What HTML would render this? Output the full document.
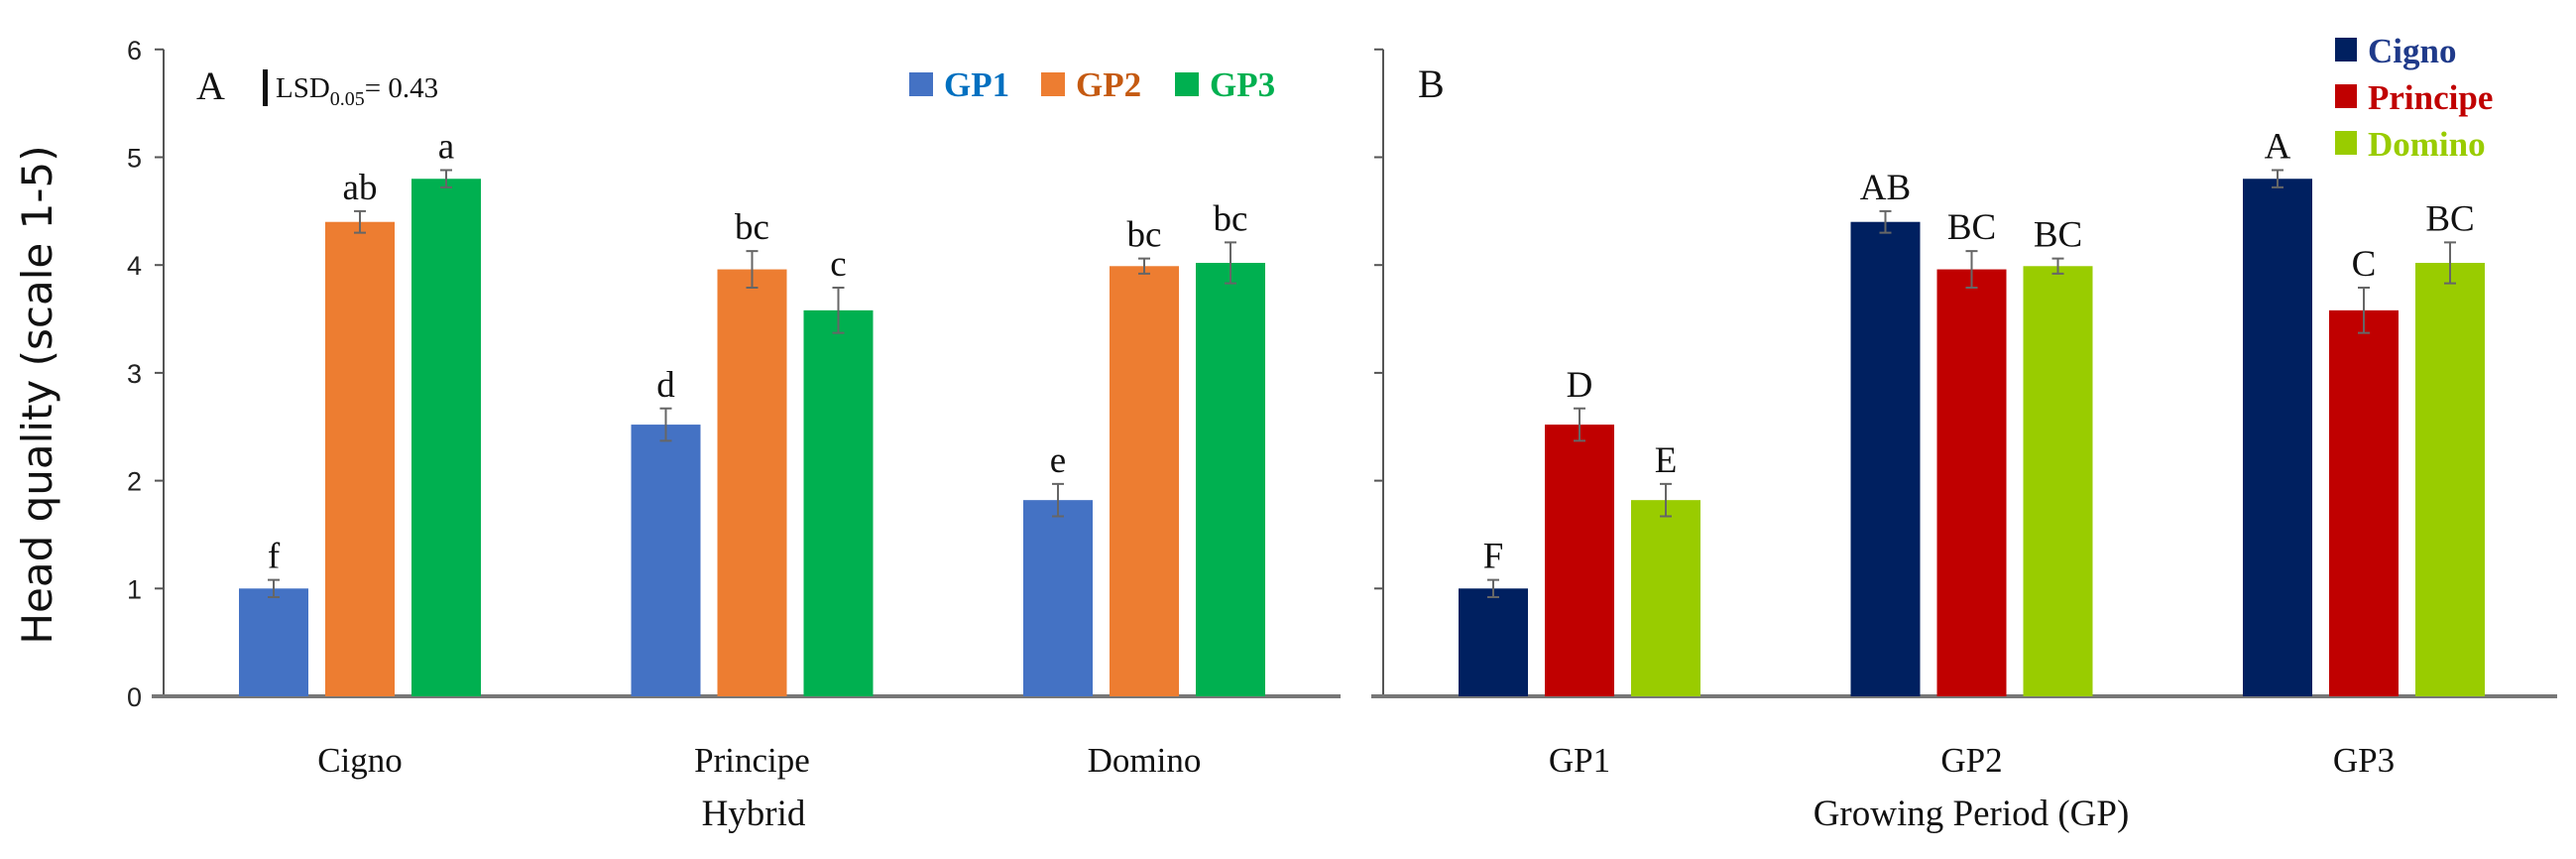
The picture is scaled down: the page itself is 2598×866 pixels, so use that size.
<!DOCTYPE html>
<html><head><meta charset="utf-8"><style>
html,body{margin:0;padding:0;background:#fff}
svg{display:block}
.tick{font-family:"Liberation Sans",sans-serif;font-size:27px;fill:#222}
.ser{font-family:"Liberation Serif",serif;fill:#111}
</style></head><body>
<svg id="chart" width="2598" height="866" viewBox="0 0 2598 866" xmlns="http://www.w3.org/2000/svg"></svg>
<script>
const hybrids = ["Cigno","Principe","Domino"];
const periods = ["GP1","GP2","GP3"];
// values[hybrid][period]
const cignoVals = [1.00, 4.40, 4.80];
const principeVals = [2.52, 3.96, 3.58];
const dominoVals = [1.82, 3.99, 4.02];
const cignoErr = [0.08, 0.10, 0.08];
const principeErr = [0.15, 0.17, 0.21];
const dominoErr = [0.15, 0.07, 0.19];
const lettersA = [["f","ab","a"],["d","bc","c"],["e","bc","bc"]];
const lettersB = [["F","D","E"],["AB","BC","BC"],["A","C","BC"]];
const yTicks = [0,1,2,3,4,5,6];
const gpColors = ["#4472c4","#ed7d31","#00b050"];
const hyColors = ["#002060","#c00000","#99cc00"];

const svg = document.getElementById('chart');
const NS = "http://www.w3.org/2000/svg";
function mk(tag, attrs, parent){const e=document.createElementNS(NS,tag);for(const k in attrs)e.setAttribute(k,attrs[k]);(parent||svg).appendChild(e);return e;}
const Y0=702, UNIT=108.7;
function y(v){return Y0 - v*UNIT;}
const vals=[cignoVals,principeVals,dominoVals];
const errs=[cignoErr,principeErr,dominoErr];

function panel(axX, xStart, xEnd, c0, labels, showLabels, getV, getE, colors, letters, pname){
  const g=mk('g',{});
  
  
  const ax=mk('line',{x1:axX,y1:y(6),x2:axX,y2:Y0,stroke:'#555','stroke-width':2},g);
  
  
  yTicks.forEach(t=>{
    const tk=mk('line',{x1:axX-9,y1:y(t),x2:axX,y2:y(t),stroke:'#555','stroke-width':2},g);
    
    
    if(showLabels){
      const tl=mk('text',{x:axX-22,y:y(t)+10,'text-anchor':'end',class:'tick'},g);
      tl.textContent=t;
      
      
    }
  });
  const xa=mk('line',{x1:xStart,y1:Y0,x2:xEnd,y2:Y0,stroke:'#777','stroke-width':4},g);
  
  
  labels.forEach((lab,i)=>{
    const cx=c0+i*395.5;
    for(let j=0;j<3;j++){
      const v=getV(i,j), e=getE(i,j);
      const bx=cx+(j-1)*87-35;
      const r=mk('rect',{x:bx,y:y(v),width:70,height:Y0-y(v),fill:colors[j]},g);
      
      
      const ex=bx+35;
      const eb=mk('path',{d:`M${ex},${y(v+e)}V${y(v-e)}M${ex-6},${y(v+e)}H${ex+6}M${ex-6},${y(v-e)}H${ex+6}`,stroke:'#666','stroke-width':2,fill:'none'},g);
      
      
      const lt=mk('text',{x:ex,y:y(v+e)-12,'text-anchor':'middle',class:'ser','font-size':37},g);
      lt.textContent=letters[i][j];
      
      
    }
    const cl=mk('text',{x:cx,y:778,'text-anchor':'middle',class:'ser','font-size':35},g);
    cl.textContent=lab;
    
    
  });
}
panel(165,153,1352,363,hybrids,true,(i,j)=>vals[i][j],(i,j)=>errs[i][j],gpColors,lettersA,'panel-a');
panel(1395,1383,2579,1593,periods,false,(i,j)=>vals[j][i],(i,j)=>errs[j][i],hyColors,lettersB,'panel-b');

function txt(x,yy,s,attrs,name){const t=mk('text',Object.assign({x:x,y:yy},attrs));t.textContent=s;return t;}
// y title
const yt=txt(0,0,"Head quality (scale 1-5)",{transform:'translate(52,398) rotate(-90)','text-anchor':'middle','font-family':'"DejaVu Sans",sans-serif','font-size':42,fill:'#111'},'y-axis-title');
txt(760,832,"Hybrid",{'text-anchor':'middle',class:'ser','font-size':37},'x-axis-title-a');
txt(1988,832,"Growing Period (GP)",{'text-anchor':'middle',class:'ser','font-size':37},'x-axis-title-b');
txt(198,100,"A",{class:'ser','font-size':40},'panel-label-a');
const lsdbar=mk('rect',{x:165+100,y:70,width:5,height:37,fill:'#111'});


const lsd=mk('text',{x:278,y:98,class:'ser','font-size':29});


lsd.innerHTML='LSD<tspan font-size="20" dy="8">0.05</tspan><tspan dy="-8">= 0.43</tspan>';
txt(1430,98,"B",{class:'ser','font-size':40},'panel-label-b');
// legend A
const legAx=[917,1050,1185];
periods.forEach((p,i)=>{
  const s=mk('rect',{x:legAx[i],y:73,width:24,height:24,fill:gpColors[i]});
  
  
  txt(legAx[i]+35,97,p,{class:'ser','font-size':35,'font-weight':'bold',fill:['#0070c0','#c55a11','#00b050'][i],style:'fill:'+['#0070c0','#c55a11','#00b050'][i]},'legend-label-'+p.toLowerCase());
});
// legend B
const legBy=[38,85,132];
hybrids.forEach((h,i)=>{
  const s=mk('rect',{x:2355,y:legBy[i],width:22,height:24,fill:hyColors[i]});
  
  
  txt(2388,legBy[i]+25,h,{class:'ser','font-size':35,'font-weight':'bold',style:'fill:'+['#1f3a8a','#c00000','#99cc00'][i]},'legend-label-'+h.toLowerCase());
});
</script>
</body></html>
